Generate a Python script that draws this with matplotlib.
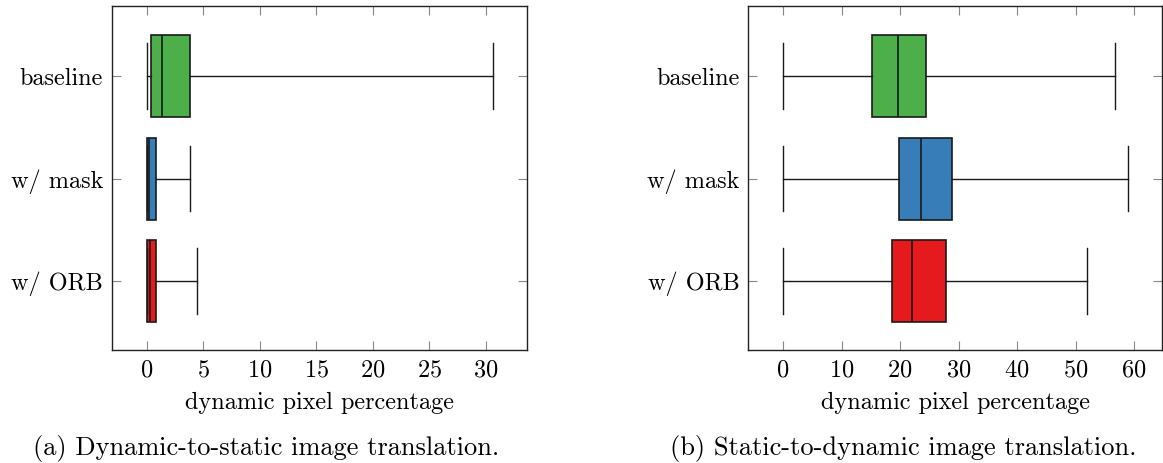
import matplotlib
matplotlib.use("Agg")
import matplotlib.pyplot as plt

plt.rcParams['font.family'] = 'cmr10'
plt.rcParams['mathtext.fontset'] = 'cm'
plt.rcParams['axes.formatter.use_mathtext'] = True

# ---- summary statistics read per method ----
methods = ["baseline", "w/ mask", "w/ ORB"]
colors = ["#4daf4a", "#377eb8", "#e41a1c"]

# (a) dynamic -> static
d2s_low = [0.0, 0.0, 0.0]
d2s_q1 = [0.36, 0.06, 0.0]
d2s_med = [1.39, 0.2, 0.27]
d2s_q3 = [3.8, 0.88, 0.83]
d2s_high = [30.6, 3.87, 4.5]

# (b) static -> dynamic
s2d_low = [0.0, 0.0, 0.0]
s2d_q1 = [15.25, 19.87, 18.56]
s2d_med = [19.6, 23.57, 22.03]
s2d_q3 = [24.37, 28.81, 27.9]
s2d_high = [56.76, 58.98, 51.87]

W, H = 1163, 463
fig = plt.figure(figsize=(W / 100, H / 100), dpi=100)


def make_stats(low, q1, med, q3, high):
    return [dict(whislo=a, q1=b, med=c, q3=d, whishi=e, fliers=[])
            for a, b, c, d, e in zip(low, q1, med, q3, high)]


def draw_panel(rect, stats, xlim, xticks, caption, cap_x):
    ax = fig.add_axes(rect)
    pos = [1, 2, 3]
    art = ax.bxp(stats, positions=pos, vert=False, widths=0.8, capwidths=0.64,
                 patch_artist=True, showfliers=False,
                 boxprops=dict(edgecolor='#1a1a1a', linewidth=1.2),
                 medianprops=dict(color='#1a1a1a', linewidth=1.2),
                 whiskerprops=dict(color='#1a1a1a', linewidth=1.0),
                 capprops=dict(color='#1a1a1a', linewidth=1.0))
    for box, c in zip(art['boxes'], colors):
        box.set_facecolor(c)
    ax.set_xlim(*xlim)
    ax.set_ylim(3.673, 0.317)
    ax.set_xticks(xticks)
    ax.set_yticks(pos)
    ax.set_yticklabels(methods)
    ax.tick_params(direction='in', length=6.5, width=0.8, color='#888888',
                   top=True, right=True, labelsize=17.5, pad=6.5)
    for sp in ax.spines.values():
        sp.set_linewidth(1.0)
        sp.set_color('#222222')
    ax.set_xlabel("dynamic pixel percentage", fontsize=17.5, labelpad=8)
    fig.text(cap_x / W, 1 - 455 / H, caption, fontsize=19,
             ha='center', va='baseline')
    return ax


draw_panel([112 / W, 1 - 350 / H, 414.7 / W, 344 / H],
           make_stats(d2s_low, d2s_q1, d2s_med, d2s_q3, d2s_high),
           (-3.05, 33.6), range(0, 31, 5),
           "(a) Dynamic-to-static image translation.", 266)
draw_panel([748.3 / W, 1 - 350 / H, 414.2 / W, 344 / H],
           make_stats(s2d_low, s2d_q1, s2d_med, s2d_q3, s2d_high),
           (-5.93, 64.85), range(0, 61, 10),
           "(b) Static-to-dynamic image translation.", 903)

fig.savefig("out.png", dpi=100)
